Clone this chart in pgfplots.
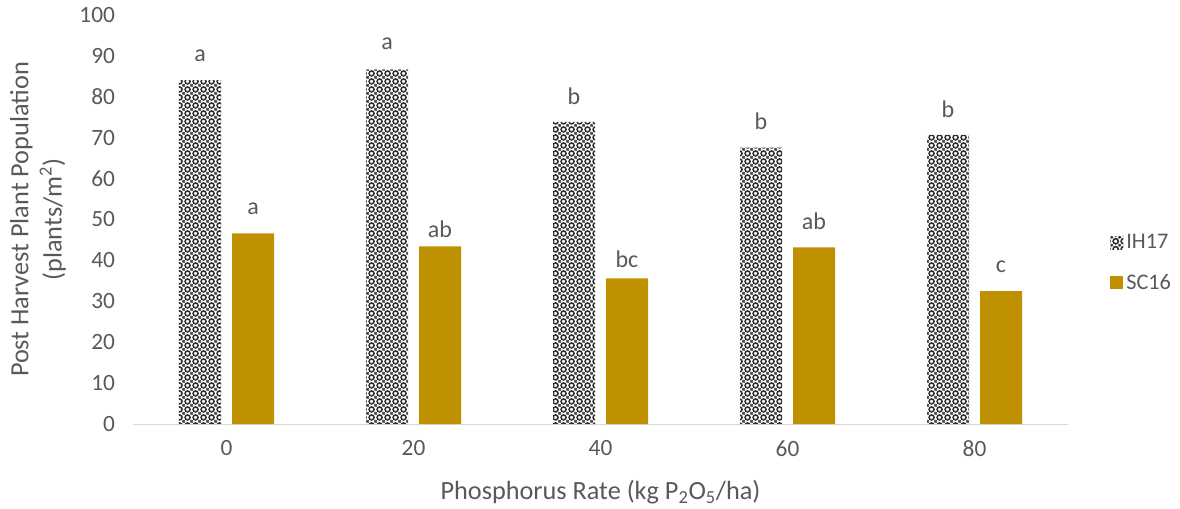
\documentclass[border=0pt]{standalone}
\usepackage{fontspec}
\setmainfont{Carlito}
\usepackage{pgfplots}
\usepackage{pgfplotstable}
\pgfplotsset{compat=1.18}
\usetikzlibrary{patterns}
\definecolor{txt}{HTML}{595959}
\definecolor{gold}{HTML}{BF9000}
\definecolor{axl}{HTML}{D9D9D9}
\definecolor{patc}{HTML}{303030}
\pgfdeclarepatternformonly{excelsphere}{\pgfpointorigin}{\pgfpoint{6pt}{6pt}}{\pgfpoint{6pt}{6pt}}{%
  \pgfsetlinewidth{1.3pt}%
  \pgfpathcircle{\pgfpoint{3pt}{3pt}}{2.1pt}%
  \pgfusepath{stroke}%
  \pgfpathcircle{\pgfpoint{0pt}{0pt}}{1.0pt}%
  \pgfpathcircle{\pgfpoint{6pt}{0pt}}{1.0pt}%
  \pgfpathcircle{\pgfpoint{0pt}{6pt}}{1.0pt}%
  \pgfpathcircle{\pgfpoint{6pt}{6pt}}{1.0pt}%
  \pgfusepath{fill}%
}
\pgfplotstableread{
x ih sc
0 84.1 46.6
1 86.7 43.4
2 73.9 35.6
3 67.6 43.2
4 70.7 32.5
}\bardata
\pgfplotstableread{
x ly lab
0 88.6 a
1 91.4 a
2 78.0 b
3 71.9 b
4 74.8 b
}\ihlab
\pgfplotstableread{
x ly lab
0 51.1 a
1 45.5 ab
2 38.1 bc
3 47.4 ab
4 36.9 c
}\sclab
\begin{document}
\begin{tikzpicture}
\begin{axis}[
  scale only axis, width=701.25pt, height=306.75pt,
  xmin=-0.5, xmax=4.5, ymin=0, ymax=100,
  xtick={0,1,2,3,4}, xticklabels={0,20,40,60,80},
  ytick={0,10,...,100},
  axis x line=bottom, axis y line=left,
  axis line style={-},
  y axis line style={draw=none},
  x axis line style={draw=axl, line width=0.75pt},
  major tick length=0pt, tick style={draw=none},
  /pgf/number format/assume math mode=true,
  ticklabel style={font=\fontsize{17.5}{20}\selectfont, text=txt},
  xticklabel style={yshift=-9pt},
  yticklabel style={xshift=-10pt},
  xlabel={Phosphorus Rate (kg P\textsubscript{2}O\textsubscript{5}/ha)},
  ylabel={Post Harvest Plant Population\\(plants/m\textsuperscript{2})},
  label style={font=\fontsize{19.7}{25}\selectfont, text=txt},
  xlabel style={at={(axis description cs:0.5,0)}, anchor=center, yshift=-51pt},
  ylabel style={at={(axis description cs:-0.1016,0.5)}, anchor=center, align=center, rotate=0},
  legend style={at={(axis description cs:1.045,0.394)}, anchor=west, draw=none, fill=none,
    font=\fontsize{16.7}{20}\selectfont, text=txt, row sep=13pt, inner sep=0pt,
    nodes={inner sep=2.2pt}},
  legend cell align=left,
  legend image code/.code={\path[#1] (0pt,-4.9pt) rectangle (9.75pt,4.9pt);},
  every node near coord/.style={anchor=south, inner sep=0pt, font=\fontsize{18}{20}\selectfont, text=txt},
]
\addplot[ybar, bar width=31.5pt, bar shift=-19.875pt, draw=none, pattern=excelsphere, pattern color=patc]
  table[x=x, y=ih] {\bardata};
\addlegendentry{IH17}
\addplot[ybar, bar width=31.5pt, bar shift=19.875pt, draw=none, fill=gold]
  table[x=x, y=sc] {\bardata};
\addlegendentry{SC16}
\addplot[draw=none, mark=none, forget plot, nodes near coords, point meta=explicit symbolic]
  table[x expr=\thisrow{x}-0.1417, y=ly, meta=lab] {\ihlab};
\addplot[draw=none, mark=none, forget plot, nodes near coords, point meta=explicit symbolic]
  table[x expr=\thisrow{x}+0.1417, y=ly, meta=lab] {\sclab};
\end{axis}
\pgfresetboundingbox
\path[use as bounding box] (-99.75pt,-63pt) rectangle (785.25pt,318pt);
\end{tikzpicture}
\end{document}
